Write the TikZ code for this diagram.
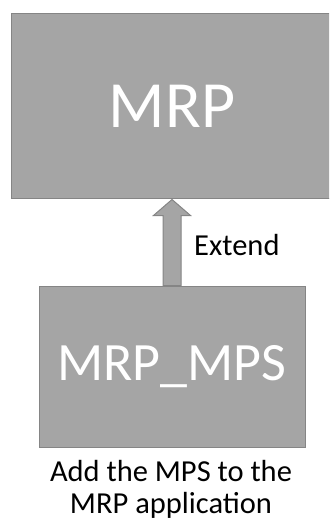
\documentclass[tikz,border=0pt]{standalone}
\usepackage{fontspec}
\setmainfont{Carlito}
\usetikzlibrary{calc}
\definecolor{boxfill}{HTML}{A5A5A5}
\definecolor{boxline}{HTML}{858585}
\tikzset{
  appbox/.style={draw=boxline, line width=1pt, fill=boxfill, rectangle,
    inner sep=0pt, text=white},
  extarrow/.style={draw=boxline, line width=1pt, fill=boxfill, line join=miter},
  caption/.style={font=\fontsize{30.5}{32}\selectfont, text=black, inner sep=0pt}
}
\begin{document}
\begin{tikzpicture}[x=1pt, y=-1pt]
  \useasboundingbox (0,0) rectangle (329,521);
  \clip (0,0) rectangle (329,521);
  % base application, running off the right edge
  \node[appbox, minimum width=322pt, minimum height=185pt,
        font=\fontsize{66}{70}\selectfont] (mrp) at (172,106.5) {MRP};
  % extension module
  \node[appbox, minimum width=266pt, minimum height=161pt,
        font=\fontsize{54}{58}\selectfont] (mps) at (172,366.5) {MRP\_MPS};
  % block arrow from the module up to the application
  \coordinate (tip) at (mps.north |- mrp.south);
  \draw[extarrow] ($(mps.north)+(-9,0)$) -- ($(tip)+(-9,16)$)
    -- ($(tip)+(-18.5,16)$) -- (tip) -- ($(tip)+(18.5,16)$)
    -- ($(tip)+(9,16)$) -- ($(mps.north)+(9,0)$) -- cycle;
  \node[caption, anchor=west] (ext) at (194,245) {Extend};
  \node[caption, align=center, anchor=north] (note) at (171,460)
    {Add the MPS to the\\MRP application};
\end{tikzpicture}
\end{document}
